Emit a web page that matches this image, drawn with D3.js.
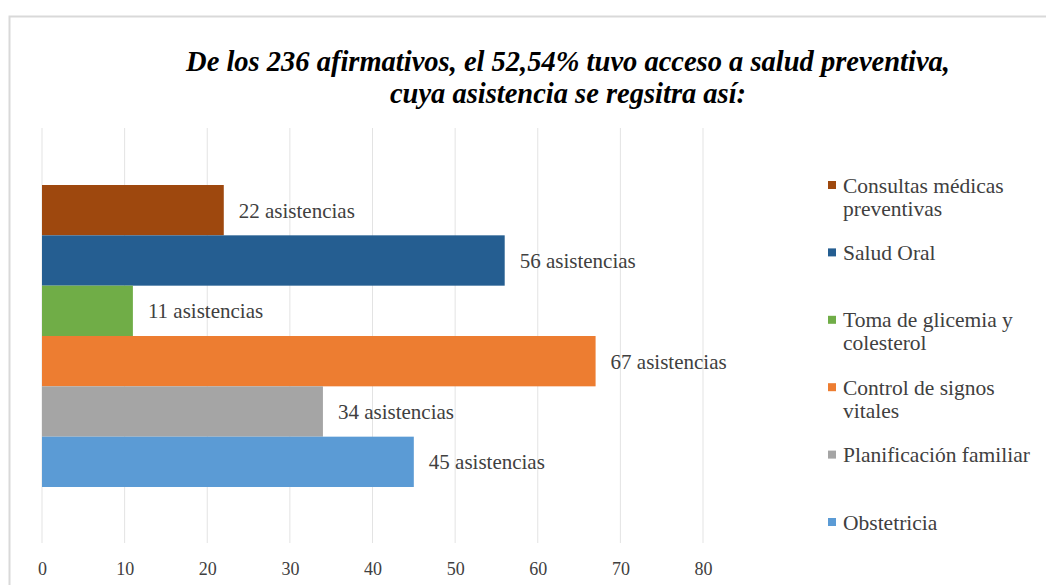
<!DOCTYPE html>
<html>
<head>
<meta charset="utf-8">
<script src="https://cdn.jsdelivr.net/npm/d3@7"></script>
<style>
  html, body { margin: 0; padding: 0; background: #fff; }
  svg { display: block; }
</style>
</head>
<body>
<svg id="chart" width="1046" height="585"></svg>
<script>
// Asistencias por servicio de salud preventiva
const categories = [
  "Consultas médicas preventivas",
  "Salud Oral",
  "Toma de glicemia y colesterol",
  "Control de signos vitales",
  "Planificación familiar",
  "Obstetricia"
];
const values = [22, 56, 11, 67, 34, 45];
const colors = ["#9e480e", "#255e91", "#70ad47", "#ed7d31", "#a5a5a5", "#5b9bd5"];
const legendLines = [
  ["Consultas médicas", "preventivas"],
  ["Salud Oral"],
  ["Toma de glicemia y", "colesterol"],
  ["Control de signos", "vitales"],
  ["Planificación familiar"],
  ["Obstetricia"]
];
const xTicks = [0, 10, 20, 30, 40, 50, 60, 70, 80];
const titleLines = [
  "De los 236 afirmativos, el 52,54% tuvo acceso a salud preventiva,",
  "cuya asistencia se regsitra así:"
];

const SERIF = "Liberation Serif";
const svg = d3.select("#chart");

// Chart frame
svg.append("rect")
  .attr("x", 9.5).attr("y", 16.5)
  .attr("width", 1060).attr("height", 600)
  .attr("fill", "#fff")
  .attr("stroke", "#d9d9d9").attr("stroke-width", 2);

// Title
svg.append("g").selectAll("text")
  .data(titleLines)
  .join("text")
  .attr("x", 568)
  .attr("y", (d, i) => 71 + i * 32)
  .attr("text-anchor", "middle")
  .attr("font-family", SERIF)
  .attr("font-size", 28.5)
  .attr("font-weight", "bold")
  .attr("font-style", "italic")
  .attr("fill", "#000")
  .text(d => d);

const x = d3.scaleLinear().domain([0, 80]).range([42, 703]);
const y = d3.scaleBand().domain(categories).range([185, 487]).padding(0);

const gridTop = 128, gridBottom = 543;

// Vertical gridlines
svg.append("g").selectAll("line")
  .data(xTicks)
  .join("line")
  .attr("x1", d => x(d)).attr("x2", d => x(d))
  .attr("y1", gridTop).attr("y2", gridBottom)
  .attr("stroke", "#e3e3e3").attr("stroke-width", 1);

// X axis tick labels
const xAxis = d3.axisBottom(x).tickValues(xTicks).tickSize(0).tickPadding(0);
const gx = svg.append("g")
  .attr("transform", `translate(0, ${gridBottom + 19})`)
  .call(xAxis)
  .attr("font-family", SERIF)
  .attr("font-size", 18);
gx.select(".domain").remove();
gx.selectAll("text").attr("fill", "#404040");

// Bars
svg.append("g").selectAll("rect")
  .data(categories)
  .join("rect")
  .attr("x", x(0))
  .attr("y", d => y(d))
  .attr("width", (d, i) => x(values[i]) - x(0))
  .attr("height", y.bandwidth())
  .attr("fill", (d, i) => colors[i]);

// Value labels
svg.append("g").selectAll("text")
  .data(categories)
  .join("text")
  .attr("x", (d, i) => x(values[i]) + 15)
  .attr("y", d => y(d) + y.bandwidth() / 2)
  .attr("dy", "0.35em")
  .attr("font-family", SERIF)
  .attr("font-size", 21)
  .attr("fill", "#404040")
  .text((d, i) => `${values[i]} asistencias`);

// Legend
const ly = d3.scalePoint().domain(categories).range([185, 522]);
const legend = svg.append("g").selectAll("g")
  .data(categories)
  .join("g")
  .attr("transform", d => `translate(828, ${ly(d)})`);

legend.append("rect")
  .attr("x", 0).attr("y", -4)
  .attr("width", 8).attr("height", 8)
  .attr("fill", (d, i) => colors[i]);

legend.append("text")
  .attr("x", 15)
  .attr("y", 0)
  .attr("font-family", SERIF)
  .attr("font-size", 21.5)
  .attr("fill", "#404040")
  .selectAll("tspan")
  .data((d, i) => legendLines[i])
  .join("tspan")
  .attr("x", 15)
  .attr("dy", (d, j) => j === 0 ? "0.35em" : "23px")
  .text(d => d);
</script>
</body>
</html>
